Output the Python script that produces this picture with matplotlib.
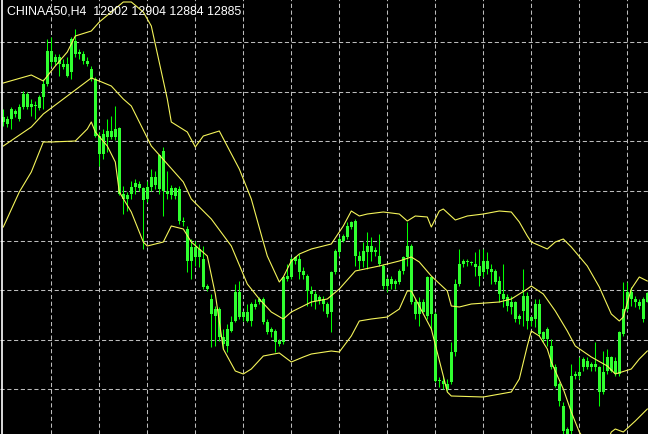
import numpy as np
import matplotlib.pyplot as plt
from matplotlib.lines import Line2D

# CHINAA50 H4 candles (oldest first)
opens = [13244, 13250, 13250, 13266, 13250, 13274, 13300, 13274, 13278, 13272,
         13294, 13320, 13386, 13364, 13374, 13360, 13360, 13344, 13406, 13380,
         13380, 13366, 13350, 13330, 13216, 13180, 13214, 13214, 13214, 13232,
         13100, 13090, 13100, 13114, 13120, 13112, 13090, 13114, 13134, 13110,
         13186, 13106, 13098, 13112, 13110, 13046, 13030, 12966, 12994, 12974,
         12970, 12916, 12890, 12870, 12870, 12814, 12796, 12826, 12846, 12904,
         12854, 12864, 12846, 12880, 12884, 12890, 12844, 12824, 12826, 12806,
         12804, 12930, 12934, 12966, 12970, 12946, 12936, 12906, 12900, 12886,
         12890, 12880, 12864, 12944, 12984, 13006, 13014, 13034, 13046, 12976,
         12966, 12984, 12996, 12984, 12976, 12956, 12916, 12930, 12920, 12924,
         12946, 12974, 12996, 12884, 12860, 12884, 12856, 12934, 12860, 12726,
         12726, 12720, 12724, 12784, 12920, 12960, 12966, 12964, 12954, 12956,
         12944, 12966, 12950, 12946, 12926, 12900, 12894, 12884, 12884, 12850,
         12866, 12896, 12846, 12850, 12880, 12824, 12810, 12796, 12754, 12720,
         12676, 12630, 12626, 12736, 12736, 12754, 12766, 12754, 12760, 12754,
         12704, 12746, 12774, 12740, 12740, 12820, 12870, 12904, 12890, 12884,
         12850, 12902]
highs = [13270, 13256, 13274, 13270, 13280, 13306, 13304, 13290, 13286, 13298,
         13330, 13410, 13414, 13380, 13380, 13370, 13374, 13414, 13430, 13390,
         13386, 13374, 13356, 13334, 13224, 13230, 13250, 13256, 13276, 13234,
         13116, 13104, 13126, 13130, 13126, 13114, 13126, 13150, 13146, 13180,
         13194, 13146, 13118, 13114, 13116, 13054, 13036, 13010, 13006, 13000,
         12996, 12920, 12900, 12876, 12874, 12830, 12840, 12856, 12920, 12926,
         12866, 12880, 12884, 12890, 12894, 12894, 12850, 12834, 12830, 12810,
         12936, 12960, 12974, 12976, 12980, 12954, 12940, 12916, 12906, 12898,
         12896, 12884, 12946, 12990, 13014, 13020, 13044, 13046, 13050, 12986,
         13004, 13024, 13014, 12994, 13020, 12960, 12934, 12936, 12930, 12950,
         12976, 13044, 13000, 12890, 12894, 12890, 12936, 12936, 12864, 12734,
         12736, 12730, 12804, 12930, 12990, 12970, 12970, 12966, 12984, 12990,
         12990, 12984, 12960, 12950, 12936, 12960, 12900, 12896, 12886, 12860,
         12950, 12904, 12856, 12890, 12890, 12826, 12834, 12810, 12760, 12724,
         12684, 12634, 12760, 12746, 12774, 12774, 12774, 12764, 12804, 12756,
         12786, 12790, 12776, 12774, 12826, 12924, 12924, 12914, 12896, 12890,
         12894, 12904]
lows = [13236, 13234, 13230, 13254, 13246, 13270, 13270, 13256, 13250, 13268,
        13270, 13316, 13356, 13358, 13336, 13350, 13334, 13330, 13374, 13370,
        13360, 13356, 13326, 13214, 13156, 13170, 13184, 13210, 13208, 13098,
        13060, 13066, 13090, 13100, 13106, 12990, 13084, 13106, 13110, 13100,
        13056, 13090, 13090, 13090, 13040, 13036, 12944, 12930, 12956, 12954,
        12910, 12906, 12794, 12796, 12806, 12790, 12784, 12824, 12844, 12850,
        12846, 12844, 12836, 12870, 12880, 12840, 12820, 12814, 12784, 12796,
        12800, 12926, 12930, 12960, 12930, 12930, 12876, 12876, 12870, 12880,
        12866, 12854, 12824, 12940, 12976, 13004, 13010, 13030, 12956, 12950,
        12954, 12950, 12966, 12976, 12956, 12910, 12904, 12910, 12910, 12920,
        12940, 12956, 12880, 12850, 12836, 12864, 12850, 12830, 12724, 12714,
        12710, 12706, 12720, 12776, 12916, 12954, 12956, 12958, 12936, 12916,
        12934, 12940, 12920, 12920, 12884, 12874, 12866, 12860, 12844, 12840,
        12836, 12830, 12836, 12834, 12816, 12804, 12796, 12750, 12714, 12676,
        12620, 12610, 12610, 12730, 12730, 12746, 12750, 12746, 12746, 12676,
        12700, 12740, 12744, 12736, 12736, 12816, 12866, 12876, 12874, 12870,
        12844, 12884]
closes = [13254, 13240, 13270, 13260, 13274, 13300, 13274, 13280, 13276, 13294,
          13320, 13386, 13364, 13374, 13360, 13354, 13336, 13410, 13380, 13384,
          13366, 13360, 13330, 13216, 13180, 13220, 13226, 13226, 13230, 13100,
          13090, 13098, 13114, 13122, 13112, 13088, 13114, 13134, 13118, 13178,
          13106, 13100, 13112, 13096, 13046, 13044, 12966, 12994, 12974, 12990,
          12914, 12910, 12860, 12856, 12814, 12800, 12830, 12844, 12904, 12854,
          12864, 12846, 12880, 12874, 12890, 12844, 12824, 12830, 12804, 12800,
          12934, 12936, 12970, 12974, 12944, 12938, 12906, 12900, 12886, 12894,
          12880, 12860, 12944, 12986, 13010, 13016, 13036, 13044, 12976, 12966,
          12986, 12996, 12984, 12988, 12960, 12916, 12930, 12920, 12926, 12946,
          12974, 12996, 12884, 12860, 12884, 12864, 12934, 12860, 12726, 12728,
          12720, 12710, 12784, 12920, 12960, 12966, 12964, 12962, 12960, 12936,
          12966, 12950, 12944, 12924, 12900, 12890, 12876, 12874, 12850, 12856,
          12896, 12846, 12854, 12880, 12820, 12810, 12830, 12754, 12716, 12686,
          12626, 12620, 12736, 12740, 12744, 12770, 12754, 12760, 12754, 12704,
          12744, 12774, 12746, 12766, 12824, 12870, 12904, 12890, 12884, 12876,
          12890, 12885]

# Bollinger bands (bar index, price)
upper_idx = [0, 7, 10, 13, 16, 18, 22, 24, 27, 30, 32, 35, 37, 41, 42, 46, 48, 50, 54, 59,
             62, 65, 66, 69, 70, 72, 74, 77, 82, 85, 87, 89, 91, 95, 99, 101, 103, 106,
             107, 109, 110, 113, 116, 120, 124, 127, 129, 131, 132, 136, 138, 140, 142,
             146, 149, 152, 154, 155, 157, 159, 161]
upper_val = [13322, 13338, 13326, 13356, 13384, 13416, 13426, 13444, 13464, 13484, 13484,
             13464, 13436, 13290, 13244, 13224, 13194, 13216, 13226, 13150, 13090, 13004,
             12976, 12924, 12934, 12966, 12980, 12990, 13000, 13036, 13066, 13056, 13060,
             13064, 13060, 13046, 13056, 13054, 13034, 13066, 13070, 13048, 13056, 13060,
             13066, 13064, 13044, 13016, 13004, 12990, 13004, 13010, 12994, 12956, 12914,
             12860, 12846, 12854, 12910, 12934, 12926]
mid_idx = [0, 7, 10, 15, 19, 22, 24, 27, 30, 32, 34, 37, 41, 45, 47, 52, 57, 61, 64, 67,
           70, 72, 77, 81, 84, 88, 94, 99, 102, 104, 107, 111, 112, 114, 117, 124, 127,
           131, 132, 135, 138, 141, 143, 147, 151, 153, 157, 159, 161]
mid_val = [13196, 13234, 13260, 13290, 13314, 13332, 13326, 13316, 13290, 13276, 13244,
           13196, 13160, 13124, 13090, 13050, 12996, 12920, 12890, 12864, 12850, 12864,
           12884, 12890, 12910, 12946, 12956, 12966, 12974, 12964, 12936, 12906, 12876,
           12874, 12880, 12884, 12890, 12910, 12916, 12900, 12866, 12826, 12796, 12774,
           12756, 12740, 12750, 12770, 12786]
lower_idx = [0, 4, 7, 10, 12, 18, 21, 22, 23, 26, 28, 29, 32, 35, 36, 40, 42, 45, 47, 51,
             53, 55, 58, 60, 62, 65, 69, 72, 75, 77, 82, 84, 87, 89, 92, 96, 99, 101, 102,
             107, 110, 111, 112, 120, 127, 129, 131, 132, 134, 136, 137, 140, 142, 144,
             147, 150, 152, 153, 155, 158, 161]
lower_val = [13034, 13104, 13144, 13204, 13204, 13206, 13230, 13244, 13224, 13196, 13164,
             13104, 13064, 13004, 12996, 13004, 13036, 13030, 13004, 12976, 12900, 12790,
             12746, 12740, 12750, 12776, 12782, 12764, 12774, 12780, 12786, 12784, 12816,
             12846, 12850, 12854, 12870, 12906, 12906, 12830, 12736, 12704, 12696, 12694,
             12704, 12730, 12796, 12826, 12816, 12790, 12764, 12710, 12664, 12624, 12590,
             12586, 12624, 12630, 12624, 12646, 12670]

grid_bars = [12, 24, 36, 48, 60, 72, 84, 96, 108, 120, 132, 144, 156]
grid_prices = [13404, 13305, 13206, 13106, 13007, 12908, 12809, 12710]

title = "CHINAA50,H4  12902 12904 12884 12885"

fig = plt.figure(figsize=(6.48, 4.35), dpi=100, facecolor='black')
ax = fig.add_axes([0, 0, 1, 1], facecolor='black')

o = np.array(opens); h = np.array(highs); l = np.array(lows); c = np.array(closes)
x = np.arange(len(o))

# grid
for gb in grid_bars:
    ax.axvline(gb, color='#bcbcbc', lw=0.75, dashes=(4, 2.5), zorder=1)
for gp in grid_prices:
    ax.axhline(gp, color='#bcbcbc', lw=0.75, dashes=(4, 2.5), zorder=1)

# candles
ax.vlines(x, l, h, color='#00ff00', lw=0.75, zorder=3)
bottom = np.minimum(o, c)
height = np.maximum(np.abs(c - o), 2)
ax.bar(x, height, bottom=bottom, width=0.62, color='#30ff30', edgecolor='none',
       zorder=4)

# bands
for idx, val in [(upper_idx, upper_val), (mid_idx, mid_val), (lower_idx, lower_val)]:
    ax.plot(idx, val, color='#f4f45a', lw=0.8, zorder=5)

ax.set_xlim(-0.825, 161.175)
ax.set_ylim(12620, 13490)
ax.set_xticks([]); ax.set_yticks([])
for s in ax.spines.values():
    s.set_visible(False)

fig.add_artist(Line2D([1.5 / 648, 1.5 / 648], [0, 1], color='white', lw=1.2))

ax.text(7 / 648, 1 - 12 / 435, title, transform=ax.transAxes, color='white',
        fontsize=8.9, family='Liberation Sans', va='center', ha='left', zorder=6)

fig.savefig('out.png', dpi=100, facecolor='black')
